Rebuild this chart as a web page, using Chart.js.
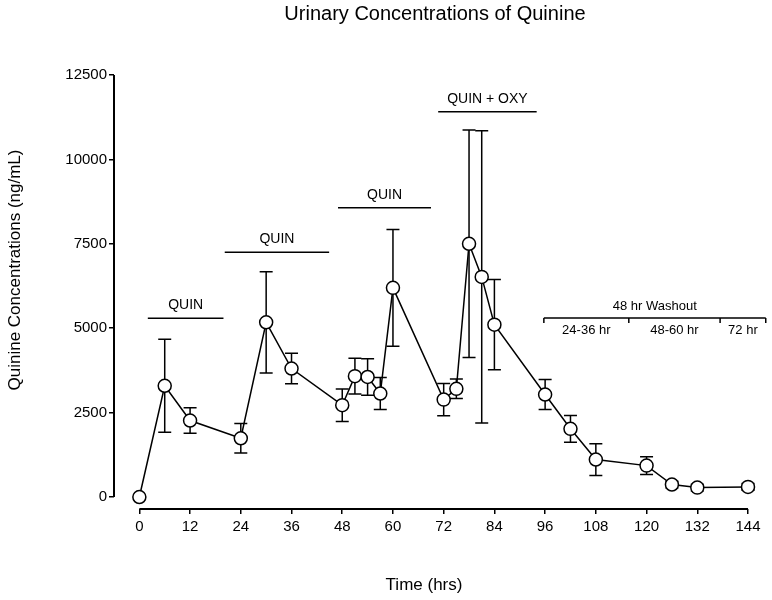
<!DOCTYPE html>
<html>
<head>
<meta charset="utf-8">
<script src="https://cdn.jsdelivr.net/npm/chart.js@4/dist/chart.umd.min.js"></script>
<style>
  body { margin: 0; background: #fff; }
</style>
</head>
<body>
<canvas id="quinineChart" width="772" height="600"></canvas>
<script>
// Sampling times (hrs), mean urinary quinine (ng/mL) and SD
const hours = [0, 6, 12, 24, 30, 36, 48, 51, 54, 57, 60, 72, 75, 78, 81, 84, 96, 102, 108, 120, 126, 132, 144];
const meanConc = [0, 3295, 2265, 1740, 5175, 3805, 2720, 3580, 3555, 3065, 6195, 2885, 3205, 7500, 6520, 5105, 3035, 2020, 1110, 930, 370, 280, 300];
const sdConc = [0, 1380, 380, 435, 1500, 450, 480, 530, 540, 475, 1730, 475, 290, 3370, 4330, 1335, 445, 395, 470, 260, 100, 100, 100];

// Tick labels
const xTicks = [0, 12, 24, 36, 48, 60, 72, 84, 96, 108, 120, 132, 144];
const yTicks = [0, 2500, 5000, 7500, 10000, 12500];

// Dosing periods (bars above the curve)
const periodLabels = ['QUIN', 'QUIN', 'QUIN', 'QUIN + OXY'];
const periodStart = [2, 20.2, 47, 70.7];
const periodEnd = [19.9, 44.9, 69, 94];
const periodLevel = [5296, 7250, 8566, 11410];

// Washout bracket
const washoutTitle = '48 hr Washout';
const washoutEdges = [95.7, 115.8, 137.4, 148.2];
const washoutLabels = ['24-36 hr', '48-60 hr', '72 hr'];
const washoutLevel = 5300;

const FONT = '"Liberation Sans", Arial, Helvetica, sans-serif';

const overlayPlugin = {
    id: 'overlay',
    beforeDatasetsDraw(chart) {
        const ctx = chart.ctx;
        const xs = chart.scales.x;
        const ys = chart.scales.y;
        ctx.save();
        ctx.strokeStyle = '#000';

        // axis lines (only over the data range, like the original)
        ctx.lineWidth = 2;
        ctx.beginPath();
        ctx.moveTo(xs.getPixelForValue(0), chart.chartArea.bottom);
        ctx.lineTo(xs.getPixelForValue(144), chart.chartArea.bottom);
        ctx.moveTo(chart.chartArea.left, ys.getPixelForValue(0));
        ctx.lineTo(chart.chartArea.left, ys.getPixelForValue(12500));
        ctx.stroke();

        // error bars
        ctx.lineWidth = 1.5;
        const cap = 6.5;
        hours.forEach((h, i) => {
            if (!sdConc[i]) return;
            const px = xs.getPixelForValue(h);
            const top = ys.getPixelForValue(meanConc[i] + sdConc[i]);
            const bot = ys.getPixelForValue(meanConc[i] - sdConc[i]);
            ctx.beginPath();
            ctx.moveTo(px, top);
            ctx.lineTo(px, bot);
            ctx.moveTo(px - cap, top);
            ctx.lineTo(px + cap, top);
            ctx.moveTo(px - cap, bot);
            ctx.lineTo(px + cap, bot);
            ctx.stroke();
        });
        ctx.restore();
    },
    afterDraw(chart) {
        const ctx = chart.ctx;
        const xs = chart.scales.x;
        const ys = chart.scales.y;
        ctx.save();
        ctx.strokeStyle = '#000';
        ctx.fillStyle = '#000';
        ctx.lineWidth = 1.5;

        // dosing periods
        ctx.font = '14px ' + FONT;
        ctx.textAlign = 'center';
        ctx.textBaseline = 'middle';
        periodLabels.forEach((label, i) => {
            const x1 = xs.getPixelForValue(periodStart[i]);
            const x2 = xs.getPixelForValue(periodEnd[i]);
            const y = ys.getPixelForValue(periodLevel[i]);
            ctx.beginPath();
            ctx.moveTo(x1, y);
            ctx.lineTo(x2, y);
            ctx.stroke();
            ctx.fillText(label, (x1 + x2) / 2, y - 13);
        });

        // washout bracket
        const wy = ys.getPixelForValue(washoutLevel);
        const wx = washoutEdges.map(v => xs.getPixelForValue(v));
        ctx.beginPath();
        ctx.moveTo(wx[0], wy);
        ctx.lineTo(wx[wx.length - 1], wy);
        wx.forEach(x => {
            ctx.moveTo(x, wy);
            ctx.lineTo(x, wy + 5);
        });
        ctx.stroke();
        ctx.font = '13px ' + FONT;
        ctx.fillText(washoutTitle, (wx[0] + wx[wx.length - 1]) / 2, wy - 12);
        washoutLabels.forEach((label, i) => {
            ctx.fillText(label, (wx[i] + wx[i + 1]) / 2, wy + 12);
        });

        // titles
        ctx.font = '20px ' + FONT;
        ctx.textBaseline = 'alphabetic';
        ctx.fillText('Urinary Concentrations of Quinine', 435, 20);
        ctx.font = '17px ' + FONT;
        ctx.fillText('Time (hrs)', 424, 590);
        ctx.translate(15, 270);
        ctx.rotate(-Math.PI / 2);
        ctx.textBaseline = 'middle';
        ctx.fillText('Quinine Concentrations (ng/mL)', 0, 0);
        ctx.restore();
    }
};

const ctx = document.getElementById('quinineChart').getContext('2d');
const quinineChart = new Chart(ctx, {
    type: 'line',
    data: {
        datasets: [{
            label: 'Quinine',
            data: hours.map((h, i) => ({ x: h, y: meanConc[i] })),
            borderColor: '#000',
            borderWidth: 1.5,
            pointRadius: 6.5,
            pointBackgroundColor: '#fff',
            pointBorderColor: '#000',
            pointBorderWidth: 1.5,
            tension: 0,
            clip: false
        }]
    },
    options: {
        responsive: false,
        animation: false,
        events: [],
        layout: {
            padding: { top: 75, right: 24, left: 0, bottom: 0 }
        },
        plugins: {
            legend: { display: false },
            title: { display: false },
            tooltip: { enabled: false }
        },
        scales: {
            x: {
                type: 'linear',
                min: -6,
                max: 144,
                afterBuildTicks: scale => { scale.ticks = xTicks.map(v => ({ value: v })); },
                afterFit: scale => { scale.height = 91; },
                border: { display: false },
                grid: { drawOnChartArea: false, drawTicks: true, tickLength: 5, color: '#000', lineWidth: 1.5 },
                ticks: {
                    color: '#000',
                    font: { family: FONT, size: 15 },
                    padding: 4,
                    maxRotation: 0,
                    callback: v => String(v)
                }
            },
            y: {
                type: 'linear',
                min: -355,
                max: 12500,
                afterBuildTicks: scale => { scale.ticks = yTicks.map(v => ({ value: v })); },
                afterFit: scale => { scale.width = 114; },
                border: { display: false },
                grid: { drawOnChartArea: false, drawTicks: true, tickLength: 5, color: '#000', lineWidth: 1.5 },
                ticks: {
                    color: '#000',
                    font: { family: FONT, size: 15 },
                    padding: 2,
                    callback: v => String(v)
                }
            }
        }
    },
    plugins: [overlayPlugin]
});
</script>
</body>
</html>
